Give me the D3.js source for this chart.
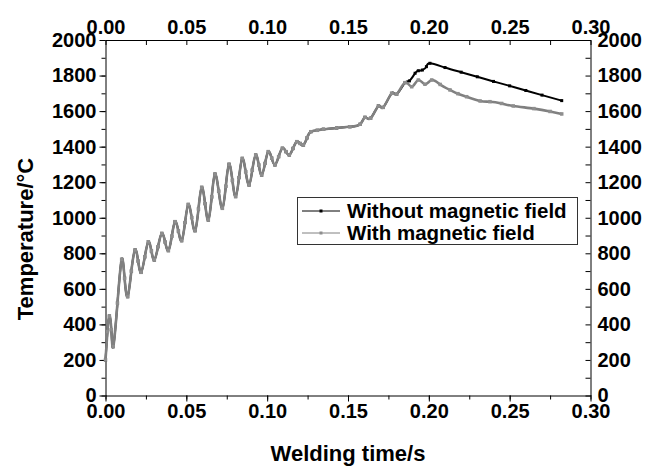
<!DOCTYPE html>
<html>
<head>
<meta charset="utf-8">
<script src="https://cdn.jsdelivr.net/npm/d3@7"></script>
<style>
body { margin: 0; background: #fff; }
text { font-family: "Liberation Sans", Arial, sans-serif; font-weight: bold; fill: #000; }
.axis path, .axis line { stroke: #000; stroke-width: 1; }
</style>
</head>
<body>
<svg width="656" height="466"></svg>
<script>
// shared heating part (both curves lie on top of each other)
var timeShared = [0.0000, 0.0012, 0.0024, 0.0036, 0.0048, 0.0074, 0.0100, 0.0118, 0.0137, 0.0160,
  0.0183, 0.0202, 0.0220, 0.0243, 0.0265, 0.0284, 0.0302, 0.0325, 0.0348, 0.0369,
  0.0389, 0.0410, 0.0430, 0.0451, 0.0471, 0.0492, 0.0512, 0.0533, 0.0554, 0.0575,
  0.0595, 0.0616, 0.0636, 0.0657, 0.0677, 0.0700, 0.0723, 0.0744, 0.0764, 0.0785,
  0.0805, 0.0826, 0.0846, 0.0867, 0.0888, 0.0908, 0.0929, 0.0948, 0.0966, 0.0987,
  0.1007, 0.1028, 0.1048, 0.1071, 0.1094, 0.1116, 0.1137, 0.1160, 0.1183, 0.1204,
  0.1224, 0.1247, 0.1270, 0.1310, 0.1348, 0.1430, 0.1512, 0.1575, 0.1605, 0.1640,
  0.1688, 0.1718, 0.1770, 0.1801, 0.1853];
var tempShared = [200, 360, 447, 370, 275, 520, 766, 660, 556, 700,
  819, 756, 693, 780, 865, 813, 762, 837, 912, 863,
  815, 896, 978, 925, 871, 973, 1075, 1001, 927, 1049,
  1171, 1079, 987, 1117, 1246, 1150, 1053, 1177, 1301, 1210,
  1119, 1226, 1334, 1259, 1184, 1268, 1353, 1297, 1240, 1306,
  1372, 1335, 1297, 1344, 1391, 1372, 1353, 1390, 1428, 1418,
  1409, 1450, 1484, 1492, 1498, 1505, 1512, 1526, 1565, 1560,
  1629, 1621, 1700, 1695, 1760];

// after the curves split
var timeWithout = [0.1880, 0.1915, 0.1935, 0.1960, 0.1985, 0.2007, 0.2100, 0.2200, 0.2300,
  0.2400, 0.2500, 0.2600, 0.2700, 0.2822];
var tempWithout = [1770, 1813, 1827, 1831, 1850, 1869, 1845, 1819, 1793,
  1767, 1742, 1716, 1690, 1659];

var timeWith = [0.1894, 0.1935, 0.1976, 0.2018, 0.2070, 0.2131, 0.2180, 0.2234, 0.2317,
  0.2378, 0.2450, 0.2522, 0.2650, 0.2750, 0.2822];
var tempWith = [1737, 1775, 1751, 1775, 1750, 1719, 1698, 1681, 1657,
  1653, 1643, 1629, 1614, 1598, 1584];

var xTicks = [0, 0.05, 0.10, 0.15, 0.20, 0.25, 0.30];
var yTicks = [0, 200, 400, 600, 800, 1000, 1200, 1400, 1600, 1800, 2000];
var legendNames = ["Without magnetic field", "With magnetic field"];

var svg = d3.select("svg");
var margin = {top: 40, left: 105.5};
var width = 485;
var height = 355.5;

var x = d3.scaleLinear().domain([0, 0.3]).range([0, width]);
var y = d3.scaleLinear().domain([0, 2000]).range([height, 0]);

var g = svg.append("g")
  .attr("transform", "translate(" + margin.left + "," + margin.top + ")");

function zip(ts, vs) {
  return ts.map(function(t, i) { return {t: t, v: vs[i]}; });
}
var without = zip(timeShared, tempShared).concat(zip(timeWithout, tempWithout));
var withF = zip(timeShared, tempShared).concat(zip(timeWith, tempWith));

var xMinor = d3.range(0, 0.3001, 0.025);
var yMinor = d3.range(0, 2001, 100);
var fx = d3.format(".2f");
function isMajorX(d) {
  return xTicks.some(function(t) { return Math.abs(t - d) < 1e-9; });
}

// minor ticks
g.append("g").attr("class", "axis")
  .attr("transform", "translate(0," + height + ")")
  .call(d3.axisBottom(x).tickValues(xMinor).tickSize(4).tickFormat(""))
  .select(".domain").remove();
g.append("g").attr("class", "axis")
  .call(d3.axisLeft(y).tickValues(yMinor).tickSize(4).tickFormat(""))
  .select(".domain").remove();

// bottom / left axes
g.append("g").attr("class", "axis")
  .attr("transform", "translate(0," + height + ")")
  .call(d3.axisBottom(x).tickValues(xTicks).tickSize(6).tickPadding(2).tickSizeOuter(0)
    .tickFormat(fx))
  .selectAll("text").style("font-size", "20px");
g.append("g").attr("class", "axis")
  .call(d3.axisLeft(y).tickValues(yTicks).tickSize(6).tickPadding(3).tickSizeOuter(0)
    .tickFormat(d3.format("d")))
  .selectAll("text").style("font-size", "20px");

// top / right axes, ticks pointing the same way as bottom / left
var topAxis = g.append("g").attr("class", "axis")
  .call(d3.axisTop(x).tickValues(xMinor).tickSize(5).tickSizeOuter(0)
    .tickFormat(function(d) { return isMajorX(d) ? fx(d) : ""; }));
topAxis.selectAll(".tick line").attr("y2", 5);
topAxis.selectAll("text").attr("y", -6).style("font-size", "20px");

var rightAxis = g.append("g").attr("class", "axis")
  .attr("transform", "translate(" + width + ",0)")
  .call(d3.axisRight(y).tickValues(yMinor).tickSize(5).tickSizeOuter(0)
    .tickFormat(function(d) { return d % 200 === 0 ? d : ""; }));
rightAxis.selectAll(".tick line").attr("x2", -5);
rightAxis.selectAll("text").attr("x", 7).style("font-size", "20px");

g.selectAll(".axis text").attr("fill", "#000");

// axis titles
svg.append("text")
  .attr("x", 348)
  .attr("y", 461)
  .attr("text-anchor", "middle")
  .style("font-size", "22px")
  .text("Welding time/s");

svg.append("text")
  .attr("transform", "translate(33,239) rotate(-90)")
  .attr("text-anchor", "middle")
  .style("font-size", "22px")
  .text("Temperature/\u00B0C");

var line = d3.line()
  .x(function(d) { return x(d.t); })
  .y(function(d) { return y(d.v); })
  .curve(d3.curveNatural);

var styles = [
  {data: without, color: "#000", mark: "#000", w: 2, m: 3},
  {data: withF, color: "#808080", mark: "#8e8e8e", w: 2.6, m: 3.5}
];

styles.forEach(function(s) {
  g.append("path")
    .datum(s.data)
    .attr("fill", "none")
    .attr("stroke", s.color)
    .attr("stroke-width", s.w)
    .attr("stroke-linejoin", "round")
    .attr("stroke-linecap", "round")
    .attr("d", line);
  g.selectAll(null)
    .data(s.data)
    .enter().append("rect")
    .attr("x", function(d) { return x(d.t) - s.m / 2; })
    .attr("y", function(d) { return y(d.v) - s.m / 2; })
    .attr("width", s.m)
    .attr("height", s.m)
    .attr("fill", s.mark);
});

// legend
var lg = svg.append("g");
lg.append("rect")
  .attr("x", 297.5).attr("y", 197.5)
  .attr("width", 280).attr("height", 47)
  .attr("fill", "#fff").attr("stroke", "#333").attr("stroke-width", 1);

legendNames.forEach(function(name, i) {
  var ly = 211 + i * 22;
  lg.append("line")
    .attr("x1", 302).attr("x2", 340)
    .attr("y1", ly).attr("y2", ly)
    .attr("stroke", styles[i].color).attr("stroke-width", 1);
  lg.append("rect")
    .attr("x", 319.5).attr("y", ly - 1.5)
    .attr("width", 3).attr("height", 3)
    .attr("fill", styles[i].mark);
  lg.append("text")
    .attr("x", 347).attr("y", ly + 7)
    .style("font-size", "20.5px")
    .text(name);
});
</script>
</body>
</html>
